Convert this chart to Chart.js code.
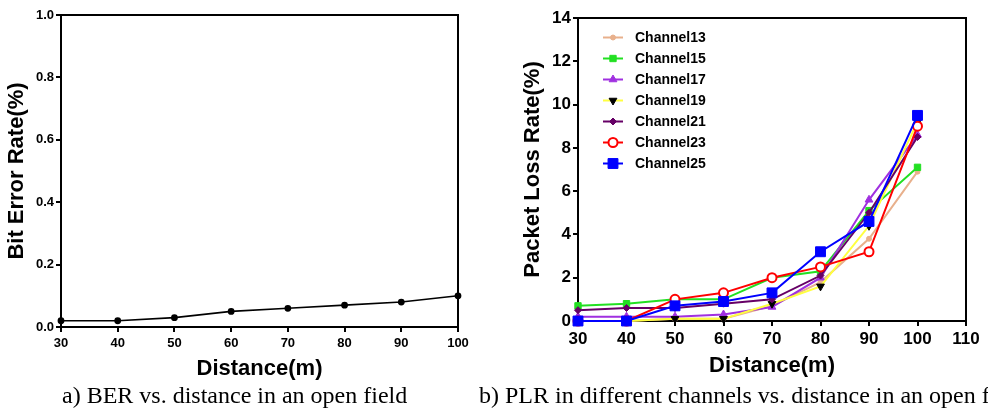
<!DOCTYPE html>
<html>
<head>
<meta charset="utf-8">
<script src="https://cdn.jsdelivr.net/npm/chart.js@4.4.0/dist/chart.umd.min.js"></script>
<style>
html, body { margin: 0; padding: 0; background: #fff; width: 988px; height: 409px; overflow: hidden; position: relative; }
.marco-grafico { position: absolute; top: 0; height: 385px; }
.leyenda-pie { position: absolute; top: 383px; font-family: "Liberation Serif", "Times New Roman", serif; font-size: 24px; line-height: 24px; white-space: nowrap; color: #000; }
</style>
</head>
<body>
<div class="marco-grafico" style="left:0;width:485px"><canvas id="chart-ber"></canvas></div>
<div class="marco-grafico" style="left:516px;width:472px"><canvas id="chart-plr"></canvas></div>
<div class="leyenda-pie" style="left:62px">a) BER vs. distance in an open field</div>
<div class="leyenda-pie" style="left:479px">b) PLR in different channels vs. distance in an open field</div>

<script>
// Datos
const distancias = [30, 40, 50, 60, 70, 80, 90, 100];
const ber = [0.02, 0.02, 0.03, 0.05, 0.06, 0.07, 0.08, 0.10];

const etiquetasCanal = ['Channel13', 'Channel15', 'Channel17', 'Channel19', 'Channel21', 'Channel23', 'Channel25'];
const canal13 = [0, 0, 0.1, 0.1, 0.7, 1.8, 3.8, 6.9];
const canal15 = [0.7, 0.8, 1.0, 1.0, 2.0, 2.3, 5.1, 7.1];
const canal17 = [0.2, 0.2, 0.2, 0.3, 0.65, 2.0, 5.6, 8.6];
const canal19 = [0, 0, 0.1, 0.1, 0.8, 1.6, 4.4, 9.2];
const canal21 = [0.5, 0.6, 0.6, 0.8, 1.0, 2.1, 5.0, 8.5];
const canal23 = [0, 0, 1.0, 1.3, 2.0, 2.5, 3.2, 9.0];
const canal25 = [0, 0, 0.7, 0.9, 1.3, 3.2, 4.6, 9.5];

const ticksBer = [0, 0.2, 0.4, 0.6, 0.8, 1.0];
const ticksPlr = [0, 2, 4, 6, 8, 10, 12, 14];

const fuente = '"Liberation Sans", Arial, sans-serif';

function puntos(valores) {
    return distancias.map((d, i) => ({ x: d, y: valores[i] }));
}

// Marco negro alrededor del area de trazado
const marco = {
    id: 'marco',
    beforeDatasetsDraw(chart) {
        const { ctx, chartArea: a } = chart;
        ctx.save();
        ctx.strokeStyle = '#000';
        ctx.lineWidth = 2;
        ctx.strokeRect(a.left, a.top, a.right - a.left, a.bottom - a.top);
        ctx.restore();
    }
};

// Leyenda dentro del area del grafico
const leyendaInterna = {
    id: 'leyendaInterna',
    afterDatasetsDraw(chart, args, opts) {
        if (!opts.mostrar) return;
        const ctx = chart.ctx;
        const lista = chart.data.datasets;
        lista.forEach((ds, i) => {
            const y = opts.y + i * opts.paso;
            ctx.save();
            ctx.strokeStyle = ds.borderColor;
            ctx.lineWidth = 2;
            ctx.beginPath();
            ctx.moveTo(opts.x, y);
            ctx.lineTo(opts.x + 20, y);
            ctx.stroke();
            ctx.fillStyle = ds.pointBackgroundColor;
            ctx.strokeStyle = ds.pointBorderColor;
            ctx.lineWidth = ds.pointBorderWidth;
            Chart.helpers.drawPoint(ctx, {
                pointStyle: ds.pointStyle,
                rotation: ds.pointRotation || 0,
                radius: ds.pointRadius,
                borderWidth: ds.pointBorderWidth
            }, opts.x + 10, y);
            ctx.fillStyle = '#000';
            ctx.font = 'bold 14px ' + fuente;
            ctx.textBaseline = 'middle';
            ctx.textAlign = 'left';
            ctx.fillText(ds.label, opts.x + 32, y + 1);
            ctx.restore();
        });
    }
};

function ejeX(min, max, fontSize, alto, padTicks, padTitulo) {
    return {
        type: 'linear',
        min: min,
        max: max,
        afterBuildTicks: (s) => { s.ticks = []; for (let v = min; v <= max; v += 10) s.ticks.push({ value: v }); },
        afterFit: (s) => { s.height = alto; },
        grid: { display: true, drawOnChartArea: false, drawTicks: true, tickLength: 5, color: '#000', lineWidth: 2 },
        border: { display: true, color: '#000', width: 2 },
        ticks: { color: '#000', padding: padTicks, maxRotation: 0, autoSkip: false, font: { family: fuente, size: fontSize, weight: 'bold' } },
        title: { display: true, text: 'Distance(m)', color: '#000', padding: { top: 0, bottom: padTitulo }, font: { family: fuente, size: 22, weight: 'bold' } }
    };
}

function ejeY(valores, titulo, fontSize, ancho, decimales) {
    return {
        min: valores[0],
        max: valores[valores.length - 1],
        afterBuildTicks: (s) => { s.ticks = valores.map(v => ({ value: v })); },
        afterFit: (s) => { s.width = ancho; },
        grid: { display: true, drawOnChartArea: false, drawTicks: true, tickLength: 5, color: '#000', lineWidth: 2 },
        border: { display: true, color: '#000', width: 2 },
        ticks: {
            color: '#000', padding: 2,
            font: { family: fuente, size: fontSize, weight: 'bold' },
            callback: (v) => Number(v).toFixed(decimales)
        },
        title: { display: true, text: titulo, color: '#000', padding: { top: 4, bottom: 0 }, font: { family: fuente, size: 22, weight: 'bold' } }
    };
}

// Grafico a) BER
new Chart(document.getElementById('chart-ber'), {
    type: 'line',
    data: {
        datasets: [{
            label: 'BER',
            data: puntos(ber),
            borderColor: '#000',
            backgroundColor: '#000',
            borderWidth: 1.6,
            pointRadius: 2.6,
            pointBackgroundColor: '#000',
            pointBorderColor: '#000',
            tension: 0,
            clip: false
        }]
    },
    options: {
        responsive: true,
        maintainAspectRatio: false,
        animation: false,
        layout: { padding: { left: 0, top: 15, right: 27, bottom: 0 } },
        plugins: { legend: { display: false }, tooltip: { enabled: false }, leyendaInterna: { mostrar: false } },
        scales: {
            x: ejeX(30, 100, 13, 58, 4, 3),
            y: ejeY(ticksBer, 'Bit Error Rate(%)', 13, 61, 1)
        }
    },
    plugins: [marco, leyendaInterna]
});

// Grafico b) PLR por canal
const estilos = [
    { datos: canal13, color: '#e8b08c', punto: 'circle', radio: 2.5, relleno: '#e8b08c', borde: '#e8b08c', rot: 0 },
    { datos: canal15, color: '#22e022', punto: 'rect', radio: 4.5, relleno: '#22e022', borde: '#22e022', rot: 0 },
    { datos: canal17, color: '#a030e0', punto: 'triangle', radio: 4.5, relleno: '#a030e0', borde: '#a030e0', rot: 0 },
    { datos: canal19, color: '#ffff40', punto: 'triangle', radio: 4.5, relleno: '#000', borde: '#000', rot: 180 },
    { datos: canal21, color: '#660066', punto: 'rectRot', radio: 3.5, relleno: '#660066', borde: '#660066', rot: 0 },
    { datos: canal23, color: '#ff0000', punto: 'circle', radio: 4.5, relleno: '#fff', borde: '#ff0000', rot: 0 },
    { datos: canal25, color: '#0000ff', punto: 'rect', radio: 7, relleno: '#0000ff', borde: '#0000ff', rot: 0 }
];

new Chart(document.getElementById('chart-plr'), {
    type: 'line',
    data: {
        datasets: estilos.map((e, i) => ({
            label: etiquetasCanal[i],
            data: puntos(e.datos),
            borderColor: e.color,
            backgroundColor: e.color,
            borderWidth: 2,
            pointStyle: e.punto,
            pointRadius: e.radio,
            pointRotation: e.rot,
            pointBackgroundColor: e.relleno,
            pointBorderColor: e.borde,
            pointBorderWidth: e.punto === 'circle' && i === 5 ? 2 : 1,
            tension: 0,
            clip: false,
            order: estilos.length - i
        }))
    },
    options: {
        responsive: true,
        maintainAspectRatio: false,
        animation: false,
        layout: { padding: { left: 0, top: 18, right: 22, bottom: 0 } },
        plugins: {
            legend: { display: false },
            tooltip: { enabled: false },
            leyendaInterna: { mostrar: true, x: 87, y: 37.5, paso: 21 }
        },
        scales: {
            x: ejeX(30, 110, 17, 64, 3, 6),
            y: ejeY(ticksPlr, 'Packet Loss Rate(%)', 17, 62, 0)
        }
    },
    plugins: [marco, leyendaInterna]
});
</script>
</body>
</html>
